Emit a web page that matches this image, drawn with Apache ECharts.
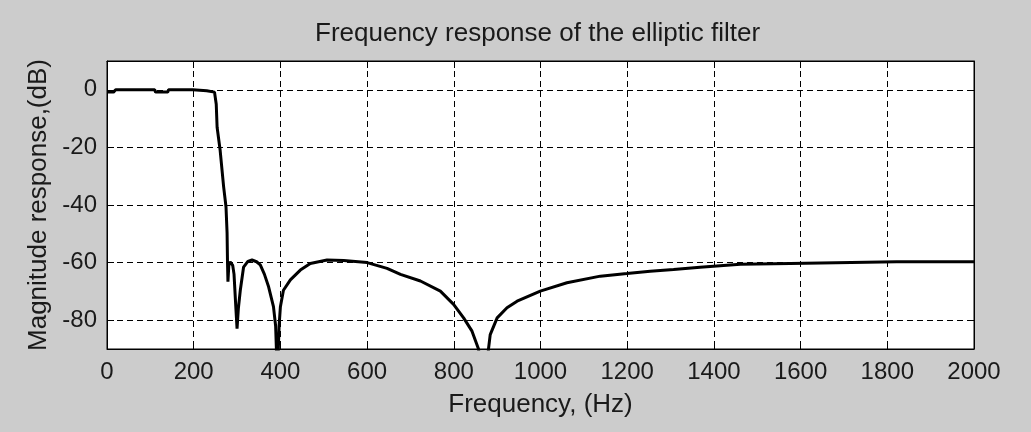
<!DOCTYPE html>
<html>
<head>
<meta charset="utf-8">
<script src="https://cdn.jsdelivr.net/npm/echarts@6/dist/echarts.min.js"></script>
<style>
html,body{margin:0;padding:0;background:#cccccc;}
#c{width:1031px;height:432px;}
</style>
</head>
<body>
<div id="c"></div>
<script>
const titleText = 'Frequency response of the elliptic filter';
const xName = 'Frequency, (Hz)';
const yName = 'Magnitude response,(dB)';
const xTicks = [0,200,400,600,800,1000,1200,1400,1600,1800,2000];
const yTicks = [0,-20,-40,-60,-80];
const freqHz = [0,15,20,110,112,140,142,198,200,230,232,248,252,254,261,269,274.5,277,278,279,281,284,290,293,297,300,303,307.5,315,325,334.5,345,353.6,363,372.8,384,389,393,397,400,407,423,446,469,507.5,546,600,646,677,723,769,799.5,822.6,842,857,870,880,884,900,922.7,946,999.5,1061,1138,1199.5,1253,1307,1368,1461,1576,1822,2000];
const magDb = [-0.8,-0.8,0,0,-0.8,-0.8,0,0,-0.3,-0.3,-0.8,-0.8,-5,-13,-21,-33.6,-40.6,-49.7,-60,-66.6,-61,-59.7,-61,-64,-75,-82.9,-76,-69.6,-61.6,-59.6,-59.1,-59.7,-60.8,-64,-68.4,-75.3,-82,-100,-82,-75.3,-69.6,-66,-62.6,-60.3,-59.1,-59.3,-60,-62,-64.1,-66.4,-69.9,-74.5,-79.2,-83.8,-90,-110,-90,-85,-79.2,-75.7,-73.4,-69.9,-67,-64.7,-63.8,-63,-62.4,-61.6,-60.6,-60.3,-59.7,-59.7];

const FONT = "'Liberation Sans', Arial, sans-serif";
const TXT = '#1a1a1a';
const chart = echarts.init(document.getElementById('c'), null, {renderer:'canvas'});
const pts = freqHz.map((f,i)=>[f, magDb[i]]);
const dashGrid = {show:true, lineStyle:{color:'#000', width:1, type:[6,4]}};
const labelStyle = {color:TXT, fontSize:24, fontFamily:FONT, formatter:(v)=>String(v)};
const axLine = {show:true, onZero:false, lineStyle:{color:'#000', width:1}};
const tick = (vals)=>({show:true, inside:true, length:7, lineStyle:{color:'#000', width:1}, customValues:vals});
chart.setOption({
  backgroundColor:'#cccccc',
  animation:false,
  title:{text:titleText, left:310, top:16, textStyle:{color:TXT, fontSize:26, fontWeight:'normal', fontFamily:FONT}},
  grid:{left:107, top:61, right:57, bottom:83, show:true, backgroundColor:'#ffffff', borderColor:'#000', borderWidth:1, containLabel:false},
  xAxis:[{
    type:'value', min:0, max:2000, interval:200, position:'bottom',
    name:xName, nameLocation:'middle', nameGap:43,
    nameTextStyle:{color:TXT, fontSize:26, fontFamily:FONT},
    axisLine:axLine,
    axisTick:tick(xTicks),
    axisLabel:Object.assign({margin:11, customValues:xTicks}, labelStyle),
    splitLine:dashGrid
  },{
    type:'value', min:0, max:2000, interval:200, position:'top',
    axisLine:axLine,
    axisTick:tick(xTicks),
    axisLabel:{show:false, customValues:xTicks}, splitLine:{show:false}
  }],
  yAxis:[{
    type:'value', min:-90, max:10, position:'left',
    name:yName, nameLocation:'middle', nameGap:55, nameRotate:90,
    nameTextStyle:{color:TXT, fontSize:26, fontFamily:FONT},
    axisLine:axLine,
    axisTick:tick(yTicks),
    axisLabel:Object.assign({margin:10, customValues:yTicks}, labelStyle),
    splitLine:dashGrid
  },{
    type:'value', min:-90, max:10, position:'right',
    axisLine:axLine,
    axisTick:tick(yTicks),
    axisLabel:{show:false, customValues:yTicks}, splitLine:{show:false}
  }],
  series:[{
    type:'line', data:pts, xAxisIndex:0, yAxisIndex:0,
    showSymbol:false, symbol:'none', clip:true,
    lineStyle:{color:'#000', width:3}
  }]
});
</script>
</body>
</html>
